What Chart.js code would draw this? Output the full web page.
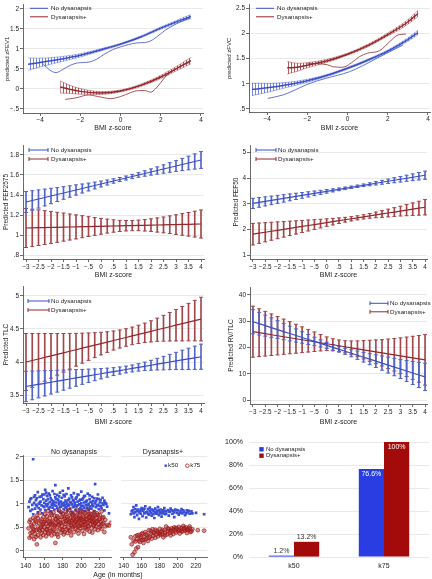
<!DOCTYPE html>
<html>
<head>
<meta charset="utf-8">
<title>Dysanapsis and BMI z-score</title>
<script src="https://cdn.jsdelivr.net/npm/chart.js@4.4.1/dist/chart.umd.min.js"></script>
<style>
  body { margin: 0; background: #fff; }
  #fig { position: relative; width: 432px; height: 579px; overflow: hidden;
         font-family: 'Liberation Sans', Arial, sans-serif; color: #222; }
  #fig canvas { position: absolute; }
  .facet { position: absolute; font-size: 7px; line-height: 8px; white-space: nowrap; transform: translateX(-50%); }
</style>
</head>
<body>
<div id="fig">
  <canvas id="fev" width="216" height="140" style="left:0;top:0"></canvas>
  <canvas id="fvc" width="216" height="140" style="left:216px;top:0"></canvas>
  <canvas id="fef2575" width="216" height="140" style="left:0;top:140px"></canvas>
  <canvas id="fef50" width="216" height="140" style="left:216px;top:140px"></canvas>
  <canvas id="tlc" width="216" height="146" style="left:0;top:280px"></canvas>
  <canvas id="rvtlc" width="216" height="146" style="left:216px;top:280px"></canvas>
  <canvas id="ageNo" width="116" height="139" style="left:0;top:440px"></canvas>
  <canvas id="ageDys" width="96" height="139" style="left:116px;top:440px"></canvas>
  <canvas id="share" width="216" height="149" style="left:216px;top:430px"></canvas>
  <div class="facet" style="left:74px;top:448px">No dysanapsis</div>
  <div class="facet" style="left:163px;top:448px">Dysanapsis+</div>
  <div class="facet" style="left:118px;top:571px">Age (in months)</div>
</div>
<script>
'use strict';

const FONT = "'Liberation Sans', Arial, sans-serif";
const groups = ['No dysanapsis', 'Dysanapsis+'];

// ---- zFEV1: fitted curve, CI, local smooth ----
const fevNoX = [-4.6, -4, -3, -2, -1, 0, 1, 2, 3, 3.5];
const fevNoFit = [0.62, 0.66, 0.74, 0.84, 0.975, 1.12, 1.30, 1.52, 1.72, 1.81];
const fevNoLo = [0.465, 0.55, 0.675, 0.80, 0.947, 1.098, 1.278, 1.492, 1.68, 1.76];
const fevNoHi = [0.775, 0.77, 0.805, 0.88, 1.003, 1.142, 1.322, 1.548, 1.76, 1.86];
const fevNoLowX = [-3.95, -3.7, -3.45, -3.2, -2.9, -2.5, -2.15, -1.6, -1.2, -0.8, -0.4, 0, 0.4, 0.8, 1.2, 1.5, 1.8, 2.2, 2.6, 3.0, 3.45];
const fevNoLowY = [0.68, 0.55, 0.45, 0.41, 0.48, 0.59, 0.65, 0.67, 0.74, 0.87, 0.98, 1.05, 1.11, 1.15, 1.16, 1.20, 1.30, 1.46, 1.58, 1.68, 1.77];
const fevDysX = [-3, -2.5, -2, -1, 0, 1, 2, 3, 3.5];
const fevDysFit = [0.05, -0.01, -0.06, -0.10, -0.05, 0.09, 0.30, 0.57, 0.71];
const fevDysLo = [-0.10, -0.11, -0.13, -0.135, -0.075, 0.06, 0.26, 0.51, 0.63];
const fevDysHi = [0.20, 0.09, 0.01, -0.065, -0.025, 0.12, 0.34, 0.63, 0.79];
const fevDysLowX = [-2.75, -2.2, -1.6, -1.1, -0.5, 0, 0.5, 0.9, 1.2, 1.5, 1.73, 2.0, 2.25, 2.7, 3.2, 3.45];
const fevDysLowY = [-0.26, -0.22, -0.15, -0.19, -0.24, -0.19, -0.09, -0.04, -0.04, -0.08, 0.0, 0.16, 0.32, 0.48, 0.62, 0.66];

// ---- zFVC ----
const fvcNoX = [-4.75, -4, -3, -2, -1, 0, 1, 2, 3, 3.5];
const fvcNoFit = [0.89, 0.92, 0.98, 1.06, 1.17, 1.31, 1.47, 1.65, 1.88, 2.02];
const fvcNoLo = [0.765, 0.83, 0.93, 1.03, 1.15, 1.29, 1.45, 1.625, 1.845, 1.975];
const fvcNoHi = [1.015, 1.01, 1.03, 1.09, 1.19, 1.33, 1.49, 1.675, 1.915, 2.065];
const fvcNoLowX = [-3.97, -3.2, -2.6, -2.06, -1.5, -1.07, -0.5, 0.09, 0.7, 1.42, 2.1, 2.75];
const fvcNoLowY = [0.71, 0.78, 0.88, 0.98, 1.06, 1.11, 1.17, 1.24, 1.35, 1.50, 1.64, 1.77];
const fvcDysX = [-3, -2.5, -2, -1, 0, 1, 2, 3, 3.5];
const fvcDysFit = [1.32, 1.33, 1.37, 1.46, 1.59, 1.76, 1.98, 2.23, 2.40];
const fvcDysLo = [1.195, 1.25, 1.32, 1.43, 1.57, 1.735, 1.95, 2.185, 2.34];
const fvcDysHi = [1.445, 1.41, 1.42, 1.49, 1.61, 1.785, 2.01, 2.275, 2.46];
const fvcDysLowX = [-2.0, -1.5, -1.0, -0.73, -0.24, 0.2, 0.59, 1.0, 1.6, 2.1, 2.5, 2.9];
const fvcDysLowY = [1.41, 1.40, 1.38, 1.34, 1.33, 1.42, 1.54, 1.61, 1.66, 1.84, 1.97, 1.99];

// ---- margins with 95% CI over BMI z-score ----
const bmiSteps = [-3, -2.75, -2.5, -2.25, -2, -1.75, -1.5, -1.25, -1, -0.75, -0.5, -0.25, 0, 0.25, 0.5, 0.75, 1, 1.25, 1.5, 1.75, 2, 2.25, 2.5, 2.75, 3, 3.25, 3.5, 3.75, 4];

const fef2575NoMean = [1.33, 1.345, 1.36, 1.375, 1.39, 1.405, 1.42, 1.435, 1.45, 1.465, 1.48, 1.495, 1.51, 1.525, 1.54, 1.555, 1.57, 1.585, 1.6, 1.615, 1.63, 1.645, 1.66, 1.675, 1.69, 1.705, 1.72, 1.735, 1.75];
const fef2575NoLo = [1.225, 1.247, 1.269, 1.291, 1.313, 1.335, 1.357, 1.378, 1.399, 1.42, 1.441, 1.461, 1.481, 1.5, 1.518, 1.535, 1.55, 1.564, 1.577, 1.588, 1.599, 1.609, 1.618, 1.627, 1.636, 1.644, 1.652, 1.659, 1.666];
const fef2575NoHi = [1.435, 1.443, 1.451, 1.459, 1.467, 1.475, 1.483, 1.492, 1.501, 1.51, 1.519, 1.529, 1.539, 1.55, 1.562, 1.575, 1.59, 1.606, 1.623, 1.642, 1.661, 1.681, 1.702, 1.723, 1.744, 1.766, 1.788, 1.811, 1.834];
const fef2575DysMean = [1.07, 1.071, 1.073, 1.074, 1.076, 1.077, 1.079, 1.08, 1.081, 1.083, 1.084, 1.086, 1.087, 1.089, 1.09, 1.091, 1.093, 1.094, 1.096, 1.097, 1.099, 1.1, 1.101, 1.103, 1.104, 1.106, 1.107, 1.109, 1.11];
const fef2575DysLo = [0.875, 0.884, 0.895, 0.905, 0.916, 0.927, 0.939, 0.95, 0.961, 0.973, 0.985, 0.997, 1.008, 1.019, 1.028, 1.035, 1.041, 1.043, 1.043, 1.04, 1.036, 1.029, 1.022, 1.015, 1.006, 0.998, 0.989, 0.98, 0.97];
const fef2575DysHi = [1.265, 1.258, 1.251, 1.243, 1.236, 1.227, 1.219, 1.21, 1.201, 1.193, 1.183, 1.175, 1.166, 1.159, 1.152, 1.147, 1.145, 1.145, 1.149, 1.154, 1.162, 1.171, 1.18, 1.191, 1.202, 1.214, 1.225, 1.238, 1.25];

const fef50NoMean = [3.02, 3.059, 3.099, 3.138, 3.177, 3.216, 3.256, 3.295, 3.334, 3.374, 3.413, 3.452, 3.491, 3.531, 3.57, 3.609, 3.649, 3.688, 3.727, 3.766, 3.806, 3.845, 3.884, 3.924, 3.963, 4.002, 4.041, 4.081, 4.12];
const fef50NoLo = [2.82, 2.87, 2.921, 2.971, 3.021, 3.071, 3.122, 3.172, 3.222, 3.273, 3.323, 3.372, 3.421, 3.47, 3.517, 3.561, 3.603, 3.641, 3.676, 3.709, 3.74, 3.769, 3.798, 3.827, 3.855, 3.882, 3.909, 3.935, 3.96];
const fef50NoHi = [3.22, 3.248, 3.277, 3.305, 3.333, 3.361, 3.39, 3.418, 3.446, 3.475, 3.503, 3.532, 3.561, 3.592, 3.623, 3.657, 3.695, 3.735, 3.778, 3.823, 3.872, 3.921, 3.97, 4.021, 4.071, 4.122, 4.173, 4.227, 4.28];
const fef50DysMean = [1.82, 1.858, 1.895, 1.933, 1.97, 2.008, 2.045, 2.083, 2.12, 2.158, 2.195, 2.233, 2.27, 2.308, 2.345, 2.383, 2.42, 2.458, 2.495, 2.533, 2.57, 2.608, 2.645, 2.683, 2.72, 2.758, 2.795, 2.833, 2.87];
const fef50DysLo = [1.4, 1.461, 1.521, 1.582, 1.642, 1.703, 1.763, 1.824, 1.884, 1.945, 2.005, 2.065, 2.123, 2.181, 2.236, 2.289, 2.336, 2.378, 2.412, 2.441, 2.46, 2.478, 2.495, 2.513, 2.53, 2.54, 2.55, 2.561, 2.57];
const fef50DysHi = [2.24, 2.255, 2.269, 2.284, 2.298, 2.313, 2.327, 2.342, 2.356, 2.371, 2.385, 2.401, 2.417, 2.435, 2.454, 2.477, 2.504, 2.538, 2.578, 2.625, 2.68, 2.738, 2.795, 2.853, 2.91, 2.976, 3.04, 3.105, 3.17];

const tlcNoMean = [3.63, 3.646, 3.662, 3.678, 3.694, 3.71, 3.726, 3.743, 3.759, 3.775, 3.791, 3.807, 3.823, 3.839, 3.855, 3.871, 3.887, 3.903, 3.919, 3.935, 3.951, 3.968, 3.984, 4, 4.016, 4.032, 4.048, 4.064, 4.08];
const tlcNoLo = [3.4, 3.429, 3.458, 3.487, 3.516, 3.545, 3.574, 3.604, 3.633, 3.662, 3.69, 3.718, 3.745, 3.771, 3.795, 3.817, 3.836, 3.851, 3.863, 3.872, 3.876, 3.88, 3.882, 3.884, 3.885, 3.886, 3.887, 3.888, 3.89];
const tlcNoHi = [3.86, 3.863, 3.866, 3.869, 3.872, 3.875, 3.878, 3.882, 3.885, 3.888, 3.892, 3.896, 3.901, 3.907, 3.915, 3.925, 3.938, 3.955, 3.975, 3.998, 4.026, 4.056, 4.086, 4.116, 4.147, 4.178, 4.209, 4.24, 4.27];
const tlcDysMean = [4, 4.023, 4.046, 4.07, 4.093, 4.116, 4.139, 4.163, 4.186, 4.209, 4.232, 4.255, 4.279, 4.302, 4.325, 4.348, 4.371, 4.395, 4.418, 4.441, 4.464, 4.488, 4.511, 4.534, 4.557, 4.58, 4.604, 4.627, 4.65];
const tlcDysLo = [3.57, 3.616, 3.662, 3.709, 3.755, 3.801, 3.847, 3.893, 3.938, 3.982, 4.025, 4.067, 4.108, 4.146, 4.181, 4.212, 4.239, 4.262, 4.28, 4.294, 4.304, 4.313, 4.316, 4.318, 4.319, 4.32, 4.321, 4.321, 4.32];
const tlcDysHi = [4.43, 4.43, 4.43, 4.431, 4.431, 4.431, 4.431, 4.433, 4.434, 4.436, 4.439, 4.443, 4.45, 4.458, 4.469, 4.484, 4.503, 4.528, 4.556, 4.588, 4.624, 4.663, 4.706, 4.75, 4.795, 4.84, 4.887, 4.933, 4.98];

const rvNoMean = [29.8, 29.05, 28.3, 27.55, 26.8, 26.05, 25.3, 24.55, 23.8, 23.05, 22.3, 21.55, 20.8, 20.05, 19.3, 18.55, 17.8, 17.05, 16.3, 15.55, 14.8, 14.05, 13.3, 12.55, 11.8, 11.05, 10.3, 9.55, 8.8];
const rvNoLo = [25.2, 24.75, 24.3, 23.85, 23.4, 22.95, 22.5, 22.05, 21.6, 21.15, 20.7, 20.2, 19.65, 19, 18.25, 17.4, 16.45, 15.45, 14.45, 13.45, 12.4, 11.35, 10.3, 9.25, 8.2, 7.05, 5.9, 4.75, 3.6];
const rvNoHi = [34.4, 33.35, 32.3, 31.25, 30.2, 29.15, 28.1, 27.05, 26, 24.95, 23.9, 22.9, 21.95, 21.1, 20.35, 19.7, 19.15, 18.65, 18.15, 17.65, 17.2, 16.75, 16.3, 15.85, 15.4, 15.05, 14.7, 14.35, 14];
const rvDysMean = [26, 25.62, 25.24, 24.85, 24.47, 24.09, 23.71, 23.32, 22.94, 22.56, 22.18, 21.8, 21.41, 21.03, 20.65, 20.27, 19.88, 19.5, 19.12, 18.74, 18.36, 17.97, 17.59, 17.21, 16.83, 16.45, 16.06, 15.68, 15.3];
const rvDysLo = [16.3, 16.52, 16.74, 16.95, 17.17, 17.39, 17.61, 17.82, 18.04, 18.26, 18.48, 18.7, 18.81, 18.73, 18.45, 17.97, 17.28, 16.5, 15.62, 14.74, 13.86, 12.97, 11.99, 11.01, 10.03, 8.95, 7.86, 6.78, 5.7];
const rvDysHi = [35.7, 34.72, 33.74, 32.75, 31.77, 30.79, 29.81, 28.82, 27.84, 26.86, 25.88, 24.9, 24.01, 23.33, 22.85, 22.57, 22.48, 22.5, 22.62, 22.74, 22.86, 22.97, 23.19, 23.41, 23.63, 23.95, 24.26, 24.58, 24.9];

// ---- k50 / k75 by age (months) ----
const k50No = [[143,0.93],[144,1.05],[145,0.85],[146,1.12],[147,0.98],[148,1.95],[148,0.78],[149,1.02],[150,1.18],[150,0.90],
  [151,1.08],[152,0.95],[153,1.25],[153,0.82],[154,1.00],[155,1.15],[156,0.88],[156,1.05],[157,0.97],[158,1.20],[158,0.80],[159,1.10],[160,0.93],[160,1.02],
  [161,1.30],[161,0.86],[162,1.07],[163,0.95],[163,1.17],[164,1.00],[165,0.90],[165,1.22],[166,1.04],[167,0.84],[167,1.12],[168,0.98],[169,1.27],[169,0.92],[170,1.06],[170,1.01],
  [171,0.88],[172,1.40],[172,1.14],[173,0.96],[173,1.03],[174,1.19],[175,0.85],[175,1.09],[176,0.99],[177,1.24],[177,0.93],[178,1.05],[178,0.81],[179,1.13],[180,0.97],[180,1.28],
  [181,1.02],[181,0.89],[182,1.16],[183,0.94],[183,1.07],[184,1.21],[185,0.86],[185,1.00],[186,1.33],[186,0.96],[187,1.11],[188,0.90],[188,1.04],[189,1.18],[190,0.83],[190,0.99],
  [191,1.08],[191,0.93],[192,1.23],[193,0.97],[193,1.02],[194,0.87],[195,1.14],[195,0.95],[196,1.05],[197,0.82],[197,1.19],[198,0.99],[199,1.09],[199,0.91],[200,1.26],[200,1.01],
  [201,0.88],[202,1.12],[202,0.96],[203,1.03],[204,0.85],[204,1.17],[205,0.98],[206,1.07],[206,0.92],[207,1.22],[208,1.00],[208,0.87],[209,1.10],[210,0.95],[210,1.04],
  [211,0.90],[212,1.15],[212,0.99],[213,1.06],[214,0.84],[215,1.42],[215,1.01],[216,0.93],[217,1.11],[217,0.97],[218,1.20],[219,0.89],[220,1.03],[220,0.96],
  [221,1.08],[222,0.91],[223,1.13],[224,0.98],[225,0.86],[226,1.02],[228,0.94],[230,0.80],
  [145,1.10],[147,0.88],[149,1.15],[151,0.98],[152,1.12],[154,0.91],[155,1.03],[157,1.16],[159,0.95],[160,1.20],[162,0.99],[162,1.24],[164,1.10],[166,0.93],
  [166,1.18],[168,1.08],[169,1.01],[171,1.21],[171,0.97],[173,1.10],[174,0.91],[176,1.16],[176,1.04],[178,0.94],[179,1.00],[181,1.19],[182,0.97],[184,1.03],
  [184,0.92],[186,1.08],[187,0.98],[189,1.02],[190,1.14],[192,0.94],[192,1.06],[194,1.11],[196,0.97],[196,1.20],[198,1.07],[198,0.88],[200,0.95],[201,1.09],
  [203,1.16],[203,0.92],[205,1.05],[207,0.98],[209,0.92],[209,1.18],[211,1.04],[213,0.95],[214,1.12],[216,1.06],[218,0.98],[219,1.10],[221,0.95],[223,1.01],
  [225,1.07],[227,1.00]];
const k75No = [[143,0.48],[144,0.28],[144,0.62],[145,0.38],[146,0.55],[146,0.31],[147,0.40],[148,0.70],[148,0.47],[149,0.25],[149,0.58],[150,0.36],[150,0.66],
  [151,0.44],[152,0.14],[152,0.75],[153,0.52],[153,0.33],[154,0.60],[155,0.42],[155,0.81],[156,0.49],[156,0.29],[157,0.67],[157,0.38],[158,0.56],[158,0.45],[159,0.72],[159,0.34],[160,0.61],[160,0.50],
  [161,0.40],[161,0.78],[162,0.57],[162,0.31],[163,0.65],[163,0.46],[164,0.53],[164,0.85],[165,0.37],[165,0.62],[166,0.48],[166,0.70],[167,0.43],[167,0.58],[168,0.33],[168,0.76],[169,0.55],[169,0.64],[170,0.45],[170,0.82],
  [171,0.52],[171,0.36],[172,0.17],[172,0.68],[173,0.59],[173,0.41],[174,0.74],[174,0.50],[175,0.63],[175,0.30],[176,0.56],[176,0.86],[177,0.47],[177,0.66],[178,0.39],[178,0.60],[179,0.72],[179,0.53],[180,0.44],[180,0.79],
  [181,0.61],[181,0.35],[182,0.69],[182,0.51],[183,0.57],[183,0.83],[184,0.46],[184,0.65],[185,0.38],[185,0.73],[186,0.58],[186,0.49],[187,0.87],[187,0.62],[188,0.42],[188,0.70],[189,0.55],[189,0.33],[190,0.64],[190,0.77],
  [191,0.50],[191,0.68],[192,0.59],[192,0.40],[193,0.81],[193,0.63],[194,0.47],[194,0.72],[195,0.56],[195,0.88],[196,0.44],[196,0.66],[197,0.61],[197,0.37],[198,0.75],[198,0.53],[199,0.69],[199,0.48],[200,0.58],[200,0.84],
  [201,0.65],[201,0.43],[202,0.73],[202,0.55],[203,0.62],[203,0.36],[204,0.80],[204,0.50],[205,0.67],[205,0.58],[206,0.45],[206,0.76],[207,0.60],[207,0.86],[208,0.52],[208,0.70],[209,0.41],[209,0.64],[210,0.57],[210,0.79],
  [211,0.48],[211,0.68],[212,0.61],[212,0.39],[213,0.74],[213,0.55],[214,0.65],[214,0.83],[215,0.46],[215,0.59],[216,0.71],[216,0.52],[217,0.63],[218,0.44],[218,0.77],[219,0.57],[220,0.68],[220,0.50],
  [221,0.62],[222,0.84],[222,0.47],[223,0.58],[224,0.72],[225,0.40],[226,0.66],[228,0.55],[230,0.54],[232,0.60],
  [145,0.66],[147,0.52],[149,0.44],[151,0.62],[151,0.30],[153,0.70],[154,0.45],[156,0.63],[157,0.52],[159,0.58],[161,0.66],[162,0.45],[163,0.74],[164,0.38],
  [166,0.57],[167,0.80],[168,0.61],[169,0.42],[171,0.75],[172,0.55],[173,0.67],[174,0.35],[175,0.71],[177,0.58],[178,0.82],[179,0.45],[181,0.73],[182,0.40],
  [183,0.64],[184,0.78],[186,0.68],[187,0.44],[188,0.60],[189,0.80],[190,0.52],[191,0.78],[192,0.69],[193,0.54],[194,0.62],[195,0.75],[197,0.70],[197,0.52],
  [198,0.64],[199,0.80],[200,0.68],[201,0.55],[202,0.82],[203,0.71],[204,0.62],[205,0.48],[206,0.68],[207,0.53],[208,0.78],[209,0.72],[210,0.65],[211,0.78],
  [212,0.70],[213,0.63],[214,0.54],[215,0.75],[216,0.62],[217,0.80],[219,0.66],[220,0.76],[221,0.54],[223,0.70],[224,0.60],[226,0.52]];
const k50Dys = [[148,0.78],[150,0.86],[151,0.93],[152,0.72],[153,0.82],[154,0.97],[155,0.76],[156,0.88],[157,0.68],[158,0.84],[159,0.79],[160,0.91],
  [161,0.74],[162,0.86],[163,0.80],[164,0.95],[165,0.71],[166,0.83],[167,0.89],[168,0.77],[169,0.92],[170,0.81],[171,0.75],[172,0.87],[173,0.84],[174,0.70],
  [175,0.90],[176,0.79],[177,0.85],[178,0.93],[179,0.76],[180,0.82],[181,0.88],[182,0.73],[183,0.86],[184,0.80],[185,0.91],[186,0.78],[187,0.84],[189,0.87],
  [190,0.75],[191,0.83],[192,0.90],[194,0.79],[195,0.85],[196,0.72],[197,0.88],[199,0.81],[200,0.86],[201,0.77],[203,0.84],[204,0.89],[205,0.80],[207,0.83],
  [208,0.76],[210,0.86],[211,0.82],[213,0.79],[215,0.84],[220,0.81],[229,0.78],
  [149,0.84],[151,0.80],[153,0.89],[155,0.85],[157,0.82],[159,0.88],[161,0.85],[163,0.90],[165,0.82],[167,0.79],[169,0.85],[171,0.88],[173,0.78],[175,0.83],
  [177,0.80],[179,0.86],[181,0.80],[183,0.83],[185,0.85],[187,0.79],[190,0.84],[193,0.86],[196,0.82],[198,0.87],[202,0.81],[206,0.86],[209,0.80],[212,0.85],[216,0.80]];
const k75Dys = [[148,0.29],[149,0.14],[150,-0.08],[151,0.22],[152,-0.03],[153,0.31],[154,0.05],[155,0.25],[156,0.08],[157,0.34],[158,0.19],[159,0.27],[160,0.36],
  [161,0.23],[162,0.17],[163,0.29],[164,0.40],[165,0.25],[166,0.33],[167,0.21],[168,0.44],[169,0.30],[170,0.37],[171,0.26],[172,0.46],[173,0.32],[174,0.39],
  [175,0.28],[176,0.35],[177,0.43],[178,0.31],[179,0.38],[180,0.47],[181,0.34],[182,0.41],[183,0.36],[184,0.29],[185,0.44],[186,0.39],[187,0.52],[188,0.35],
  [189,0.42],[190,0.46],[191,0.38],[192,0.33],[193,0.48],[194,0.41],[195,0.36],[196,0.50],[197,0.44],[198,0.39],[199,0.47],[200,0.42],[201,0.51],[202,0.37],
  [203,0.45],[204,0.49],[205,0.41],[206,0.53],[207,0.46],[208,0.43],[209,0.50],[210,0.38],[211,0.47],[212,0.44],[213,0.52],[214,0.40],[216,0.46],[222,0.44],[229,0.43],
  [153,0.20],[155,0.33],[157,0.22],[159,0.30],[161,0.38],[163,0.24],[165,0.35],[168,0.28],[170,0.42],[173,0.38],[175,0.45],[178,0.40],[180,0.36],[183,0.45],
  [186,0.33],[189,0.48],[192,0.43],[195,0.46],[198,0.49],[201,0.44],[204,0.42],[207,0.49],[210,0.45],[213,0.48],[215,0.42]];
const k50k75 = ['k50', 'k75'];

// ---- share of children with low k50 / k75 ----
const barCats = ['k50', 'k75'];
const pctNo = [1.2, 76.6];
const pctDys = [13.2, 100];

// ---- tick values and labels ----
const wideXTicks = [-4, -2, 0, 2, 4];
const wideXLabels = ['−4', '−2', '0', '2', '4'];
const bmiXTicks = [-3, -2.5, -2, -1.5, -1, -0.5, 0, 0.5, 1, 1.5, 2, 2.5, 3, 3.5, 4];
const bmiXLabels = ['−3', '−2.5', '−2', '−1.5', '−1', '−.5', '0', '.5', '1', '1.5', '2', '2.5', '3', '3.5', '4'];
const fevYTicks = [-0.5, 0, 0.5, 1, 1.5, 2];
const fevYLabels = ['−.5', '0', '.5', '1', '1.5', '2'];
const fvcYTicks = [0.5, 1, 1.5, 2, 2.5];
const fvcYLabels = ['.5', '1', '1.5', '2', '2.5'];
const fef2575YTicks = [0.8, 1, 1.2, 1.4, 1.6, 1.8];
const fef2575YLabels = ['.8', '1', '1.2', '1.4', '1.6', '1.8'];
const fef50YTicks = [1, 2, 3, 4, 5];
const fef50YLabels = ['1', '2', '3', '4', '5'];
const tlcYTicks = [3.5, 4, 4.5, 5];
const tlcYLabels = ['3.5', '4', '4.5', '5'];
const rvYTicks = [0, 10, 20, 30, 40];
const rvYLabels = ['0', '10', '20', '30', '40'];
const ageXTicks = [140, 160, 180, 200, 220];
const ageXLabels = ['140', '160', '180', '200', '220'];
const kYTicks = [0, 0.5, 1, 1.5, 2];
const kYLabels = ['0', '.5', '1', '1.5', '2'];
const pctYTicks = [0, 20, 40, 60, 80, 100];
const pctYLabels = ['0%', '20%', '40%', '60%', '80%', '100%'];

// ---- colours ----
const BLUE = '#3b4fc4';
const RED = '#93282d';
const BLUE_BAND = 'rgba(72,92,205,0.75)';
const RED_BAND = 'rgba(150,40,45,0.75)';
const BLUE_ERR = '#5465c9';
const RED_ERR = '#a4474c';
const PT_BLUE = '#3a4fd6';
const PT_RED = '#a01c1c';
const BAR_BLUE = '#2a3de3';
const BAR_RED = '#a30b0b';

Chart.defaults.font.family = FONT;
Chart.defaults.color = '#222';

function pts(xs, ys) {
  return xs.map((x, i) => ({x: x, y: ys[i]}));
}

function hatch(ctx, color) {
  let tile = document.createElement('canvas');
  tile.width = 3;
  tile.height = 3;
  let t = tile.getContext('2d');
  t.fillStyle = color;
  t.fillRect(0, 0, 1, 3);
  return ctx.createPattern(tile, 'repeat');
}

function axisY(o) {
  return {
    type: 'linear', min: o.min, max: o.max,
    afterFit: s => { s.width = o.width; },
    afterBuildTicks: s => { s.ticks = o.ticks.map(v => ({value: v})); },
    ticks: {display: !o.hide, callback: (v, i) => o.labels[i], padding: o.tickPad ?? 1,
      font: {size: o.size || 6.5}, color: '#222'},
    grid: {color: '#e3e3e3', lineWidth: 0.8, drawTicks: !o.hide && !o.noTicks, tickLength: 3,
      tickColor: '#444', tickWidth: 0.8},
    border: {display: !o.hide && !o.noLine, color: '#444', width: 0.8},
    title: {display: !!o.title, text: o.title || '', font: {size: o.titleSize || 6.5}, color: '#222',
      padding: {top: o.titlePad || 0, bottom: 0}}
  };
}

function axisX(o) {
  return {
    type: 'linear', min: o.min, max: o.max, offset: false,
    afterFit: s => { s.height = o.height; },
    afterBuildTicks: s => { s.ticks = o.ticks.map(v => ({value: v})); },
    ticks: {callback: (v, i) => o.labels[i], padding: o.tickPad || 0, autoSkip: false,
      maxRotation: 0, minRotation: 0, font: {size: o.size || 6.5}, color: '#222'},
    grid: {drawOnChartArea: false, offset: false, tickLength: 3, tickColor: '#444', tickWidth: 0.8},
    border: {color: '#444', width: 0.8},
    title: {display: !!o.title, text: o.title || '', font: {size: 7}, color: '#222',
      padding: {top: 0, bottom: o.titlePad || 0}}
  };
}

// little in-plot key, drawn at fixed canvas positions
function makeKey(k) {
  return {
    id: 'key',
    afterDraw(chart) {
      let ctx = chart.ctx;
      ctx.save();
      ctx.font = k.size + 'px ' + FONT;
      ctx.textBaseline = 'middle';
      k.items.forEach((it, i) => {
        let x = k.x + i * (k.dx || 0);
        let y = k.y + i * (k.dy || 0);
        let tx = x + k.w + k.gap;
        ctx.strokeStyle = it.color;
        ctx.fillStyle = it.color;
        ctx.lineWidth = 1;
        if (it.kind === 'rect') {
          ctx.fillRect(x - it.r, y - it.r, it.r * 2, it.r * 2);
          tx = x + it.r + k.gap;
        } else if (it.kind === 'ring') {
          ctx.lineWidth = 0.8;
          ctx.beginPath();
          ctx.arc(x, y, it.r, 0, Math.PI * 2);
          ctx.stroke();
          tx = x + it.r + k.gap;
        } else {
          ctx.beginPath();
          ctx.moveTo(x, y);
          ctx.lineTo(x + k.w, y);
          if (it.kind === 'err') {
            ctx.moveTo(x, y - 2);
            ctx.lineTo(x, y + 2);
            ctx.moveTo(x + k.w, y - 2);
            ctx.lineTo(x + k.w, y + 2);
          }
          ctx.stroke();
        }
        ctx.fillStyle = '#222';
        ctx.fillText(it.label, tx, y);
      });
      ctx.restore();
    }
  };
}

function baseOptions(y, x, pad) {
  return {
    responsive: false, animation: false, devicePixelRatio: 1,
    layout: {padding: pad},
    plugins: {legend: {display: false}, tooltip: {enabled: false}},
    scales: {x: axisX(x), y: axisY(y)}
  };
}

function fitPanel(id, y, x, pad, series, key) {
  let ctx = document.getElementById(id).getContext('2d');
  let datasets = [];
  series.forEach(s => {
    datasets.push({data: pts(s.x, s.fit), borderColor: s.color, borderWidth: 1.5, order: 0});
    datasets.push({data: pts(s.lowX, s.lowY), borderColor: s.color, borderWidth: 0.8, order: 1});
    datasets.push({data: pts(s.x, s.lo), borderColor: s.band, borderWidth: 0.6, order: 2,
      fill: '+1', backgroundColor: hatch(ctx, s.band)});
    datasets.push({data: pts(s.x, s.hi), borderColor: s.band, borderWidth: 0.6, order: 2});
  });
  let options = baseOptions(y, x, pad);
  options.elements = {point: {radius: 0}, line: {cubicInterpolationMode: 'monotone'}};
  new Chart(ctx, {type: 'line', data: {datasets: datasets}, options: options, plugins: [makeKey(key)]});
}

function errPanel(id, y, x, pad, series, key) {
  let ctx = document.getElementById(id).getContext('2d');
  let datasets = [];
  series.forEach(s => {
    datasets.push({type: 'line', data: pts(bmiSteps, s.mean), borderColor: s.color, borderWidth: 1.2,
      pointRadius: 0, order: 0});
    datasets.push({type: 'bar', data: bmiSteps.map((b, i) => ({x: b, y: [s.lo[i], s.hi[i]]})),
      backgroundColor: s.err, barThickness: 1, grouped: false, order: 1});
    datasets.push({type: 'line', showLine: false, data: pts(bmiSteps, s.lo).concat(pts(bmiSteps, s.hi)),
      pointStyle: 'line', pointRadius: 2, pointBorderColor: s.err, pointBorderWidth: 1, order: 1});
  });
  new Chart(ctx, {type: 'line', data: {datasets: datasets}, options: baseOptions(y, x, pad),
    plugins: [makeKey(key)]});
}

function agePanel(id, y, x, pad, k50, k75, key) {
  let ctx = document.getElementById(id).getContext('2d');
  let datasets = [
    {data: k75.map(p => ({x: p[0], y: p[1]})), pointStyle: 'circle', pointRadius: 1.9,
      borderColor: PT_RED, backgroundColor: 'rgba(160,28,28,0.45)', borderWidth: 0.7},
    {data: k50.map(p => ({x: p[0], y: p[1]})), pointStyle: 'rect', pointRadius: 1.9,
      borderColor: PT_BLUE, backgroundColor: PT_BLUE, borderWidth: 0}
  ];
  let plugins = key ? [makeKey(key)] : [];
  new Chart(ctx, {type: 'scatter', data: {datasets: datasets}, options: baseOptions(y, x, pad), plugins: plugins});
}

// ---- row 1 ----
fitPanel('fev',
  {min: -0.6, max: 2.1, ticks: fevYTicks, labels: fevYLabels, width: 23, title: 'predicted zFEV1', titleSize: 6, titlePad: 3.4},
  {min: -4.85, max: 4.1, ticks: wideXTicks, labels: wideXLabels, height: 27, title: 'BMI z-score', titlePad: 7.8, tickPad: 0},
  {top: 1, right: 13, left: 0, bottom: 0},
  [{x: fevNoX, fit: fevNoFit, lo: fevNoLo, hi: fevNoHi, lowX: fevNoLowX, lowY: fevNoLowY, color: BLUE, band: BLUE_BAND},
   {x: fevDysX, fit: fevDysFit, lo: fevDysLo, hi: fevDysHi, lowX: fevDysLowX, lowY: fevDysLowY, color: RED, band: RED_BAND}],
  {x: 30, y: 8.3, dy: 8.5, w: 18, gap: 3, size: 6.2,
   items: [{label: groups[0], color: BLUE, kind: 'line'}, {label: groups[1], color: RED, kind: 'line'}]});

fitPanel('fvc',
  {min: 0.44, max: 2.57, ticks: fvcYTicks, labels: fvcYLabels, width: 33, title: 'predicted zFVC', titleSize: 6, titlePad: 9.4},
  {min: -4.9, max: 4.1, ticks: wideXTicks, labels: wideXLabels, height: 28, title: 'BMI z-score', titlePad: 8.1, tickPad: 0},
  {top: 1, right: 2, left: 0, bottom: 0},
  [{x: fvcNoX, fit: fvcNoFit, lo: fvcNoLo, hi: fvcNoHi, lowX: fvcNoLowX, lowY: fvcNoLowY, color: BLUE, band: BLUE_BAND},
   {x: fvcDysX, fit: fvcDysFit, lo: fvcDysLo, hi: fvcDysHi, lowX: fvcDysLowX, lowY: fvcDysLowY, color: RED, band: RED_BAND}],
  {x: 40, y: 8.3, dy: 8.5, w: 18, gap: 3, size: 6.2,
   items: [{label: groups[0], color: BLUE, kind: 'line'}, {label: groups[1], color: RED, kind: 'line'}]});

// ---- rows 2 and 3 ----
errPanel('fef2575',
  {min: 0.76, max: 1.9, ticks: fef2575YTicks, labels: fef2575YLabels, width: 23, title: 'Predicted FEF2575', titlePad: 2},
  {min: -3.12, max: 4.12, ticks: bmiXTicks, labels: bmiXLabels, height: 21, title: 'BMI z-score', titlePad: 0.8, tickPad: 1, size: 6.3},
  {top: 4, right: 12, left: 0, bottom: 0},
  [{mean: fef2575NoMean, lo: fef2575NoLo, hi: fef2575NoHi, color: BLUE, err: BLUE_ERR},
   {mean: fef2575DysMean, lo: fef2575DysLo, hi: fef2575DysHi, color: RED, err: RED_ERR}],
  {x: 29, y: 10, dy: 9, w: 19, gap: 3, size: 6.2,
   items: [{label: groups[0], color: BLUE, kind: 'err'}, {label: groups[1], color: RED, kind: 'err'}]});

errPanel('fef50',
  {min: 0.85, max: 5.3, ticks: fef50YTicks, labels: fef50YLabels, width: 34, title: 'Predicted FEF50', titlePad: 16},
  {min: -3.12, max: 4.08, ticks: bmiXTicks, labels: bmiXLabels, height: 21, title: 'BMI z-score', titlePad: 0.8, tickPad: 1, size: 6.3},
  {top: 2, right: 2, left: 0, bottom: 0},
  [{mean: fef50NoMean, lo: fef50NoLo, hi: fef50NoHi, color: BLUE, err: BLUE_ERR},
   {mean: fef50DysMean, lo: fef50DysLo, hi: fef50DysHi, color: RED, err: RED_ERR}],
  {x: 40, y: 10, dy: 9, w: 20, gap: 2, size: 6.2,
   items: [{label: groups[0], color: BLUE, kind: 'err'}, {label: groups[1], color: RED, kind: 'err'}]});

errPanel('tlc',
  {min: 3.38, max: 5.15, ticks: tlcYTicks, labels: tlcYLabels, width: 23, title: 'Predicted TLC', titlePad: 2},
  {min: -3.12, max: 4.12, ticks: bmiXTicks, labels: bmiXLabels, height: 23, title: 'BMI z-score', titlePad: 0, tickPad: 1, size: 6.3},
  {top: 6, right: 12, left: 0, bottom: 0},
  [{mean: tlcNoMean, lo: tlcNoLo, hi: tlcNoHi, color: BLUE, err: BLUE_ERR},
   {mean: tlcDysMean, lo: tlcDysLo, hi: tlcDysHi, color: RED, err: RED_ERR}],
  {x: 28, y: 21, dy: 9, w: 21, gap: 2, size: 6.2,
   items: [{label: groups[0], color: BLUE, kind: 'err'}, {label: groups[1], color: RED, kind: 'err'}]});

errPanel('rvtlc',
  {min: -1.5, max: 43, ticks: rvYTicks, labels: rvYLabels, width: 34, title: 'Predicted RV/TLC', titlePad: 11},
  {min: -3.12, max: 4.08, ticks: bmiXTicks, labels: bmiXLabels, height: 22, title: 'BMI z-score', titlePad: 0, tickPad: 1, size: 6.3},
  {top: 7, right: 2, left: 0, bottom: 0},
  [{mean: rvNoMean, lo: rvNoLo, hi: rvNoHi, color: BLUE, err: BLUE_ERR},
   {mean: rvDysMean, lo: rvDysLo, hi: rvDysHi, color: RED, err: RED_ERR}],
  {x: 154, y: 23.3, dy: 8.5, w: 18, gap: 2, size: 6.2,
   items: [{label: groups[0], color: BLUE, kind: 'err'}, {label: groups[1], color: RED, kind: 'err'}]});

// ---- row 4, left: k50 / k75 against age, one facet per group ----
agePanel('ageNo',
  {min: -0.13, max: 2.04, ticks: kYTicks, labels: kYLabels, width: 23},
  {min: 137, max: 232.5, ticks: ageXTicks, labels: ageXLabels, height: 22, tickPad: 2},
  {top: 15, right: 3, left: 0, bottom: 0},
  k50No, k75No, null);

agePanel('ageDys',
  {min: -0.13, max: 2.04, ticks: kYTicks, labels: kYLabels, width: 0, hide: true},
  {min: 137, max: 232.5, ticks: ageXTicks, labels: ageXLabels, height: 22, tickPad: 2},
  {top: 15, right: 4, left: 2, bottom: 0},
  k50Dys, k75Dys,
  {x: 49.7, y: 25.7, dx: 21.6, w: 0, gap: 1.2, size: 6.2,
   items: [{label: k50k75[0], color: PT_BLUE, kind: 'rect', r: 1.2}, {label: k50k75[1], color: PT_RED, kind: 'ring', r: 1.8}]});

// ---- row 4, right: percentages ----
const barValues = {
  id: 'barValues',
  afterDatasetsDraw(chart) {
    let ctx = chart.ctx;
    ctx.save();
    ctx.font = '7px ' + FONT;
    ctx.textAlign = 'center';
    ctx.textBaseline = 'middle';
    chart.data.datasets.forEach((ds, di) => {
      chart.getDatasetMeta(di).data.forEach((bar, i) => {
        let v = ds.data[i];
        let inside = v > 50;
        ctx.fillStyle = inside ? '#fff' : '#333';
        ctx.fillText(v + '%', bar.x, inside ? bar.y + 5 : bar.y - 5);
      });
    });
    ctx.restore();
  }
};

new Chart(document.getElementById('share'), {
  type: 'bar',
  data: {
    labels: barCats,
    datasets: [
      {label: groups[0], data: pctNo, backgroundColor: BAR_BLUE, barPercentage: 1, categoryPercentage: 0.56},
      {label: groups[1], data: pctDys, backgroundColor: BAR_RED, barPercentage: 1, categoryPercentage: 0.56}
    ]
  },
  options: {
    responsive: false, animation: false, devicePixelRatio: 1,
    layout: {padding: {top: 12, right: 3, left: 0, bottom: 0}},
    plugins: {legend: {display: false}, tooltip: {enabled: false}},
    scales: {
      x: {
        afterFit: s => { s.height = 22; },
        ticks: {padding: 5, font: {size: 7}, color: '#222'},
        grid: {display: false, drawTicks: false},
        border: {display: false}
      },
      y: axisY({min: 0, max: 100, ticks: pctYTicks, labels: pctYLabels, width: 33, noTicks: true, noLine: true, tickPad: 6, size: 7})
    }
  },
  plugins: [barValues, makeKey({x: 45.5, y: 19.3, dy: 6.4, w: 0, gap: 2.3, size: 6,
    items: [{label: groups[0], color: BAR_BLUE, kind: 'rect', r: 2.2}, {label: groups[1], color: BAR_RED, kind: 'rect', r: 2.2}]})]
});
</script>
</body>
</html>
